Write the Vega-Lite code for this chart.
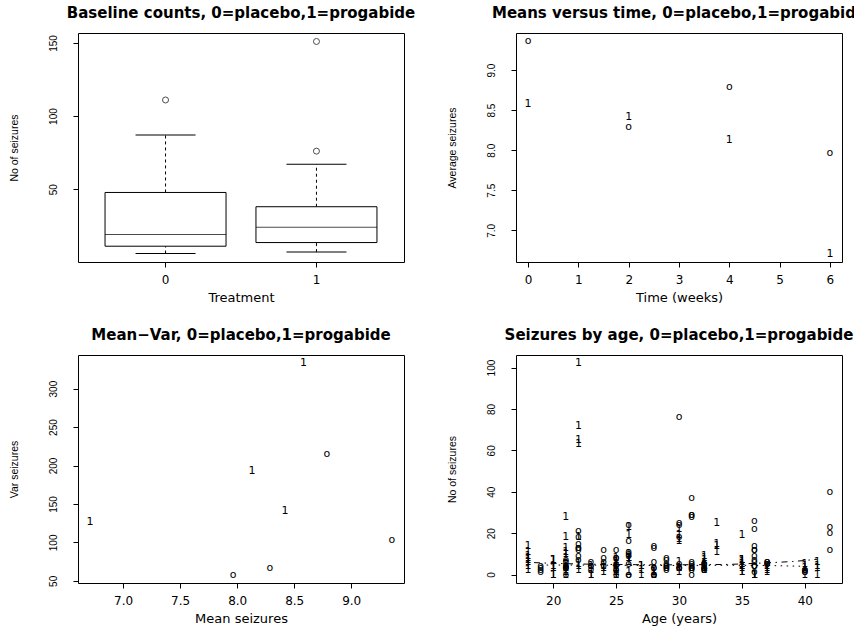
{
  "$schema": "https://vega.github.io/schema/vega-lite/v6.json",
  "autosize": {"type": "none"},
  "padding": {"left": 78, "top": 33, "right": 776, "bottom": 598},
  "background": "white",
  "datasets": {
    "subjects": [
      {"id":104,"trt":"0","base":11,"age":31,"y1":5,"y2":3,"y3":3,"y4":3},
      {"id":106,"trt":"0","base":11,"age":30,"y1":3,"y2":5,"y3":3,"y4":3},
      {"id":107,"trt":"0","base":6,"age":25,"y1":2,"y2":4,"y3":0,"y4":5},
      {"id":114,"trt":"0","base":8,"age":36,"y1":4,"y2":4,"y3":1,"y4":4},
      {"id":116,"trt":"0","base":66,"age":22,"y1":7,"y2":18,"y3":9,"y4":21},
      {"id":118,"trt":"0","base":27,"age":29,"y1":5,"y2":2,"y3":8,"y4":7},
      {"id":123,"trt":"0","base":12,"age":31,"y1":6,"y2":4,"y3":0,"y4":2},
      {"id":126,"trt":"0","base":52,"age":42,"y1":40,"y2":20,"y3":23,"y4":12},
      {"id":130,"trt":"0","base":23,"age":37,"y1":5,"y2":6,"y3":6,"y4":5},
      {"id":135,"trt":"0","base":10,"age":28,"y1":14,"y2":13,"y3":6,"y4":0},
      {"id":141,"trt":"0","base":52,"age":36,"y1":26,"y2":12,"y3":6,"y4":22},
      {"id":145,"trt":"0","base":33,"age":24,"y1":12,"y2":6,"y3":8,"y4":4},
      {"id":201,"trt":"0","base":18,"age":23,"y1":4,"y2":4,"y3":6,"y4":2},
      {"id":202,"trt":"0","base":42,"age":36,"y1":7,"y2":9,"y3":12,"y4":14},
      {"id":205,"trt":"0","base":87,"age":26,"y1":16,"y2":24,"y3":10,"y4":9},
      {"id":206,"trt":"0","base":50,"age":26,"y1":11,"y2":0,"y3":0,"y4":5},
      {"id":210,"trt":"0","base":18,"age":28,"y1":0,"y2":0,"y3":3,"y4":3},
      {"id":213,"trt":"0","base":111,"age":31,"y1":37,"y2":29,"y3":28,"y4":29},
      {"id":215,"trt":"0","base":18,"age":32,"y1":3,"y2":5,"y3":2,"y4":5},
      {"id":217,"trt":"0","base":20,"age":21,"y1":3,"y2":0,"y3":6,"y4":7},
      {"id":219,"trt":"0","base":12,"age":29,"y1":3,"y2":4,"y3":3,"y4":4},
      {"id":220,"trt":"0","base":9,"age":21,"y1":3,"y2":4,"y3":3,"y4":4},
      {"id":222,"trt":"0","base":17,"age":32,"y1":2,"y2":3,"y3":3,"y4":5},
      {"id":226,"trt":"0","base":28,"age":25,"y1":8,"y2":12,"y3":2,"y4":8},
      {"id":227,"trt":"0","base":55,"age":30,"y1":18,"y2":24,"y3":76,"y4":25},
      {"id":230,"trt":"0","base":9,"age":40,"y1":2,"y2":1,"y3":2,"y4":1},
      {"id":234,"trt":"0","base":10,"age":19,"y1":3,"y2":1,"y3":4,"y4":2},
      {"id":238,"trt":"0","base":47,"age":22,"y1":13,"y2":15,"y3":13,"y4":12},
      {"id":101,"trt":"1","base":76,"age":18,"y1":11,"y2":14,"y3":9,"y4":8},
      {"id":102,"trt":"1","base":38,"age":32,"y1":8,"y2":7,"y3":9,"y4":4},
      {"id":103,"trt":"1","base":19,"age":20,"y1":0,"y2":4,"y3":3,"y4":0},
      {"id":108,"trt":"1","base":10,"age":30,"y1":3,"y2":6,"y3":1,"y4":3},
      {"id":110,"trt":"1","base":19,"age":18,"y1":2,"y2":6,"y3":7,"y4":4},
      {"id":111,"trt":"1","base":24,"age":24,"y1":4,"y2":3,"y3":1,"y4":3},
      {"id":112,"trt":"1","base":31,"age":30,"y1":22,"y2":17,"y3":19,"y4":16},
      {"id":113,"trt":"1","base":14,"age":35,"y1":5,"y2":4,"y3":7,"y4":4},
      {"id":117,"trt":"1","base":11,"age":27,"y1":2,"y2":4,"y3":0,"y4":4},
      {"id":121,"trt":"1","base":67,"age":20,"y1":3,"y2":7,"y3":7,"y4":7},
      {"id":122,"trt":"1","base":41,"age":22,"y1":4,"y2":18,"y3":2,"y4":5},
      {"id":124,"trt":"1","base":7,"age":28,"y1":2,"y2":1,"y3":1,"y4":0},
      {"id":128,"trt":"1","base":22,"age":23,"y1":0,"y2":2,"y3":4,"y4":0},
      {"id":129,"trt":"1","base":13,"age":40,"y1":5,"y2":4,"y3":0,"y4":3},
      {"id":137,"trt":"1","base":46,"age":33,"y1":11,"y2":14,"y3":25,"y4":15},
      {"id":139,"trt":"1","base":36,"age":21,"y1":10,"y2":5,"y3":3,"y4":8},
      {"id":143,"trt":"1","base":38,"age":35,"y1":19,"y2":7,"y3":6,"y4":7},
      {"id":147,"trt":"1","base":7,"age":25,"y1":1,"y2":1,"y3":2,"y4":3},
      {"id":203,"trt":"1","base":36,"age":26,"y1":6,"y2":10,"y3":8,"y4":8},
      {"id":204,"trt":"1","base":11,"age":25,"y1":2,"y2":1,"y3":0,"y4":0},
      {"id":207,"trt":"1","base":151,"age":22,"y1":102,"y2":65,"y3":72,"y4":63},
      {"id":208,"trt":"1","base":22,"age":32,"y1":4,"y2":3,"y3":2,"y4":4},
      {"id":209,"trt":"1","base":41,"age":25,"y1":8,"y2":6,"y3":5,"y4":7},
      {"id":211,"trt":"1","base":32,"age":35,"y1":1,"y2":3,"y3":1,"y4":5},
      {"id":214,"trt":"1","base":56,"age":21,"y1":18,"y2":11,"y3":28,"y4":13},
      {"id":218,"trt":"1","base":24,"age":41,"y1":6,"y2":3,"y3":4,"y4":0},
      {"id":221,"trt":"1","base":16,"age":32,"y1":3,"y2":5,"y3":4,"y4":3},
      {"id":225,"trt":"1","base":22,"age":26,"y1":1,"y2":23,"y3":19,"y4":8},
      {"id":228,"trt":"1","base":25,"age":21,"y1":2,"y2":3,"y3":0,"y4":1},
      {"id":232,"trt":"1","base":13,"age":36,"y1":0,"y2":0,"y3":0,"y4":0},
      {"id":236,"trt":"1","base":12,"age":37,"y1":1,"y2":4,"y3":3,"y4":2}
    ],
    "means": [
      {"trt":"0","time":0,"mean":9.357,"var":102.76},
      {"trt":"0","time":2,"mean":8.286,"var":66.66},
      {"trt":"0","time":4,"mean":8.786,"var":215.29},
      {"trt":"0","time":6,"mean":7.964,"var":58.18},
      {"trt":"1","time":0,"mean":8.581,"var":332.72},
      {"trt":"1","time":2,"mean":8.419,"var":140.65},
      {"trt":"1","time":4,"mean":8.129,"var":193.05},
      {"trt":"1","time":6,"mean":6.710,"var":126.88}
    ],
    "smooth": [
      {"trt":"1","age":18,"fit":5.9},
      {"trt":"1","age":20,"fit":5.4},
      {"trt":"1","age":23,"fit":5.0},
      {"trt":"1","age":26,"fit":4.8},
      {"trt":"1","age":29,"fit":4.7},
      {"trt":"1","age":32,"fit":4.8},
      {"trt":"1","age":34,"fit":4.9},
      {"trt":"1","age":36,"fit":5.4},
      {"trt":"1","age":37.5,"fit":5.8},
      {"trt":"1","age":39,"fit":6.3},
      {"trt":"1","age":40,"fit":6.8},
      {"trt":"1","age":41,"fit":7.4},
      {"trt":"0","age":19,"fit":4.6},
      {"trt":"0","age":22,"fit":4.6},
      {"trt":"0","age":25,"fit":4.5},
      {"trt":"0","age":28,"fit":4.4},
      {"trt":"0","age":31,"fit":4.4},
      {"trt":"0","age":34,"fit":4.5},
      {"trt":"0","age":37,"fit":4.4},
      {"trt":"0","age":39,"fit":4.1},
      {"trt":"0","age":40,"fit":4.0}
    ]
  },
  "config": {
    "view": {"stroke": "black", "strokeWidth": 1, "fill": "white"},
    "font": "DejaVu Sans",
    "mark": {"color": "black"},
    "title": {"font": "DejaVu Sans", "fontSize": 15, "fontWeight": "bold", "color": "black", "anchor": "middle", "baseline": "alphabetic", "offset": 12},
    "axis": {"grid": false, "domain": false, "tickColor": "black", "tickSize": 5, "tickWidth": 1, "labelColor": "black", "titleColor": "black", "titleFontWeight": "normal", "labelFlush": false, "labelOverlap": false},
    "axisX": {"labelFont": "DejaVu Sans", "labelFontSize": 12, "labelPadding": 7, "labelAngle": 0, "titleFont": "DejaVu Sans", "titleFontSize": 13, "titleY": 39, "titleBaseline": "alphabetic"},
    "axisY": {"labelFont": "Liberation Sans Narrow, Liberation Sans", "labelFontSize": 10, "labelAngle": -90, "labelAlign": "center", "labelBaseline": "bottom", "labelPadding": 15, "titleFont": "Liberation Sans Narrow, Liberation Sans", "titleFontSize": 10.5, "titleAngle": -90, "titleX": -61, "titleY": 114.5, "titleBaseline": "alphabetic", "titleAlign": "center"},
    "text": {"color": "black", "fill": "black", "font": "DejaVu Sans", "fontSize": 10, "baseline": "middle", "align": "center"}
  },
  "concat": [
    {
      "width": 326, "height": 229,
      "title": "Baseline counts, 0=placebo,1=progabide",
      "data": {"name": "subjects"},
      "mark": {
        "type": "boxplot", "extent": 1.5, "size": 121,
        "box": {"fill": "white", "stroke": "black", "strokeWidth": 1},
        "median": {"color": "black", "strokeWidth": 1},
        "rule": {"color": "black", "strokeDash": [3, 3]},
        "ticks": {"color": "black", "size": 60},
        "outliers": {"shape": "circle", "filled": false, "color": "black", "size": 36, "strokeWidth": 1}
      },
      "encoding": {
        "x": {"field": "trt", "type": "nominal", "scale": {"type": "band", "paddingInner": 0.2, "paddingOuter": 0.18}, "axis": {"title": "Treatment"}},
        "y": {"field": "base", "type": "quantitative", "scale": {"domain": [0.2, 156.8], "nice": false, "zero": false}, "axis": {"title": "No of seizures", "values": [50, 100, 150]}}
      }
    },
    {
      "width": 326, "height": 229,
      "title": "Means versus time, 0=placebo,1=progabide",
      "data": {"name": "means"},
      "mark": {"type": "text", "color": "black", "fill": "black", "fontSize": 11},
      "encoding": {
        "x": {"field": "time", "type": "quantitative", "scale": {"domain": [-0.24, 6.24], "nice": false, "zero": false}, "axis": {"title": "Time (weeks)", "values": [0, 1, 2, 3, 4, 5, 6]}},
        "y": {"field": "mean", "type": "quantitative", "scale": {"domain": [6.604, 9.463], "nice": false, "zero": false}, "axis": {"title": "Average seizures", "values": [7, 7.5, 8, 8.5, 9], "format": ".1f"}},
        "text": {"condition": {"test": "datum.trt === '0'", "value": "o"}, "field": "trt"}
      }
    },
    {
      "width": 326, "height": 228,
      "title": "Mean\u2212Var, 0=placebo,1=progabide",
      "data": {"name": "means"},
      "mark": {"type": "text", "color": "black", "fill": "black", "fontSize": 11},
      "encoding": {
        "x": {"field": "mean", "type": "quantitative", "scale": {"domain": [6.604, 9.463], "nice": false, "zero": false}, "axis": {"title": "Mean seizures", "values": [7, 7.5, 8, 8.5, 9], "format": ".1f"}},
        "y": {"field": "var", "type": "quantitative", "scale": {"domain": [47.2, 343.7], "nice": false, "zero": false}, "axis": {"title": "Var seizures", "values": [50, 100, 150, 200, 250, 300], "titleY": 114}},
        "text": {"condition": {"test": "datum.trt === '0'", "value": "o"}, "field": "trt"}
      }
    },
    {
      "width": 326, "height": 228,
      "title": "Seizures by age, 0=placebo,1=progabide",
      "layer": [
        {
          "data": {"name": "subjects"},
          "transform": [{"fold": ["y1", "y2", "y3", "y4"], "as": ["period", "count"]}],
          "mark": {"type": "text", "color": "black", "fill": "black", "fontSize": 11},
          "encoding": {
            "x": {"field": "age", "type": "quantitative", "scale": {"domain": [17.04, 42.96], "nice": false, "zero": false}, "axis": {"title": "Age (years)", "values": [20, 25, 30, 35, 40]}},
            "y": {"field": "count", "type": "quantitative", "scale": {"domain": [-4.08, 106.08], "nice": false, "zero": false}, "axis": {"title": "No of seizures", "values": [0, 20, 40, 60, 80, 100], "titleY": 114}},
            "text": {"condition": {"test": "datum.trt === '0'", "value": "o"}, "field": "trt"}
          }
        },
        {
          "data": {"name": "smooth"},
          "mark": {"type": "line", "color": "black", "strokeWidth": 1},
          "encoding": {
            "x": {"field": "age", "type": "quantitative"},
            "y": {"field": "fit", "type": "quantitative"},
            "detail": {"field": "trt"},
            "strokeDash": {"field": "trt", "type": "nominal", "scale": {"domain": ["0", "1"], "range": [[1.5, 4.5], [1.5, 4.5, 6, 4.5]]}, "legend": null}
          }
        }
      ]
    }
  ],
  "columns": 2,
  "spacing": {"row": 93, "column": 112},
  "bounds": "flush"
}
